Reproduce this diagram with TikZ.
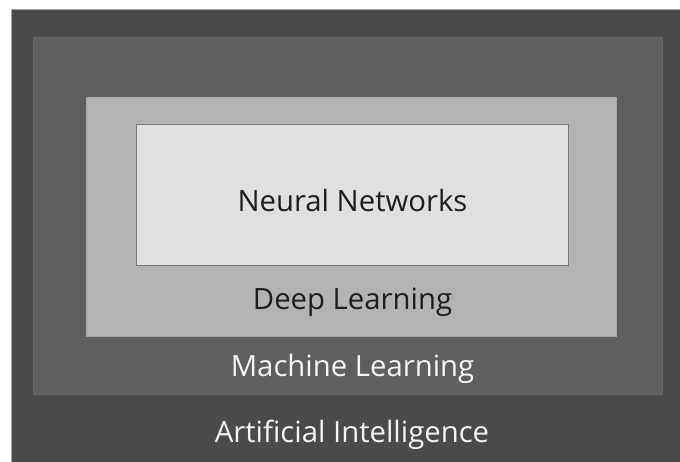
\documentclass[tikz,border=0pt]{standalone}
\usepackage{fontspec}
\setmainfont{Open Sans}
\begin{document}
\begin{tikzpicture}[x=1pt,y=-1pt,
  layer/.style={draw, line width=1pt, inner sep=0pt},
  lbl/.style={font=\fontsize{29.3}{34}\selectfont, anchor=center}]
\useasboundingbox (0,0) rectangle (680,462);
\fill[white] (0,0) rectangle (680,462);
\path[layer, draw=gray!70, fill={rgb,255:red,74;green,74;blue,74}] (11,9.5) rectangle (681,463);
\path[layer, draw={rgb,255:red,104;green,104;blue,104}, fill={rgb,255:red,95;green,95;blue,95}] (33.5,37.5) rectangle (662,394.5);
\path[layer, draw={rgb,255:red,168;green,168;blue,168}, fill={rgb,255:red,179;green,179;blue,179}] (86.5,97.5) rectangle (616.5,336.5);
\node[layer, draw={rgb,255:red,120;green,120;blue,120}, fill={rgb,255:red,224;green,224;blue,224}, minimum width=432, minimum height=141] (nn) at (352,195.5) {};
\node[lbl, text={rgb,255:red,30;green,30;blue,30}] (nnl) at (352.5,201) {Neural Networks};
\node[lbl, text={rgb,255:red,30;green,30;blue,30}] (dll) at (352.5,302.5) {Deep Learning};
\node[lbl, text={rgb,255:red,245;green,245;blue,245}] (mll) at (352.5,368.5) {Machine Learning};
\node[lbl, text={rgb,255:red,245;green,245;blue,245}] (ail) at (352,434.5) {Artificial Intelligence};
\end{tikzpicture}
\end{document}
